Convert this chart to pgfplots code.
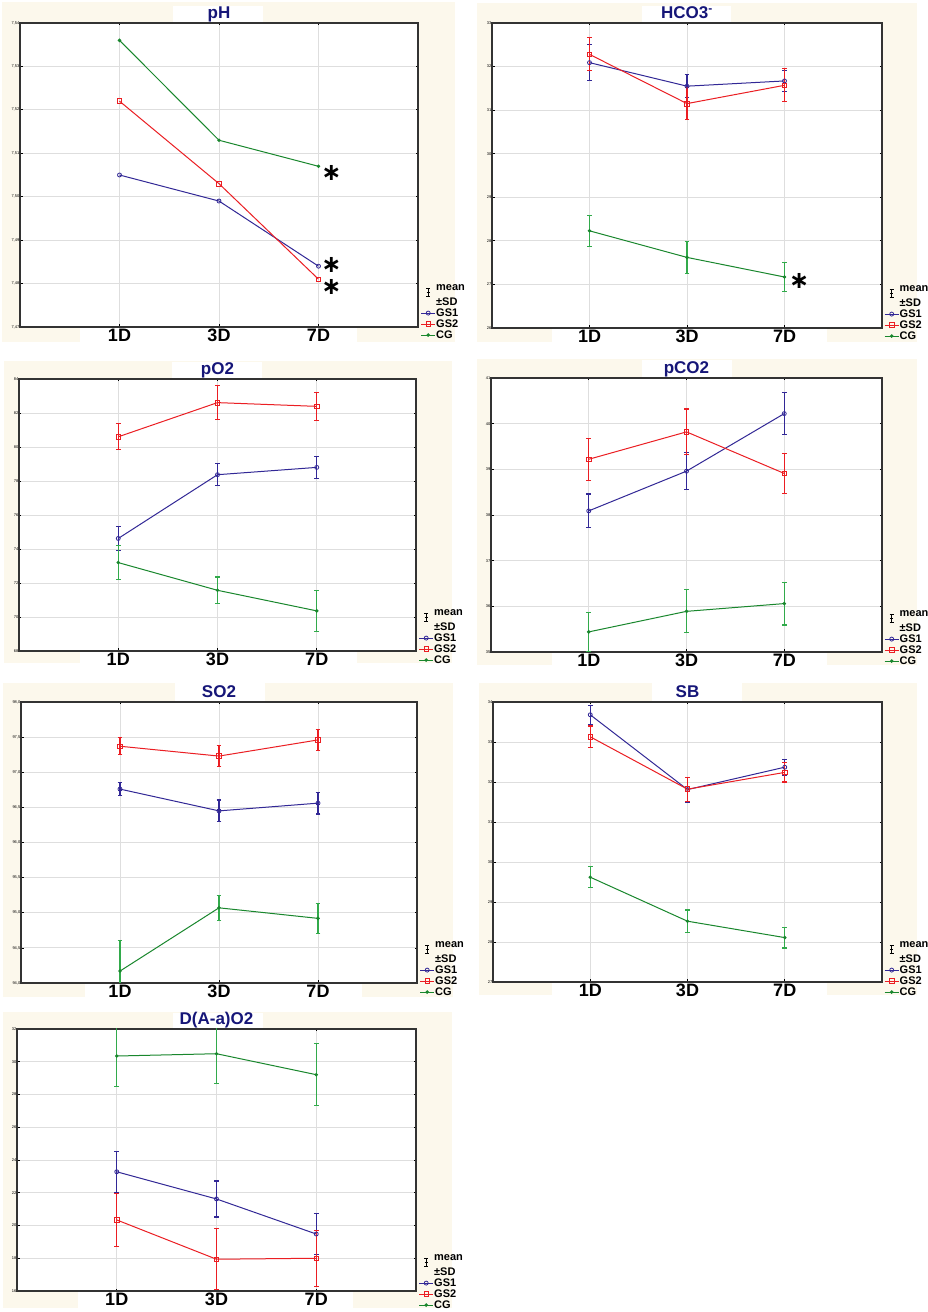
\documentclass[border=0pt]{standalone}
\usepackage{pgfplots}
\pgfplotsset{compat=1.18}
\usepackage{fontspec}
\setmainfont{Liberation Sans}
\newfontfamily\dejavu{DejaVu Sans}
\definecolor{cream}{RGB}{252,248,236}
\definecolor{gsone}{RGB}{50,40,150}
\definecolor{gstwo}{RGB}{235,30,35}
\definecolor{cgline}{RGB}{25,135,45}
\definecolor{cgbar}{RGB}{50,170,75}
\definecolor{navy}{RGB}{22,22,120}
\pgfplotsset{
  panel/.style={
    scale only axis, anchor=south west,
    xmin=0, xmax=4, xtick={1,2,3}, xticklabels={1D,3D,7D},
    grid=major, grid style={draw=black!13, line width=0.9pt},
    axis line style={draw=black!80, line width=1.2pt},
    major tick style={black, line width=0.7pt}, major tick length=2.5pt,
    axis background/.style={fill=white},
    xticklabel style={font=\fontsize{18}{18}\selectfont\bfseries, inner sep=0pt, yshift=-2pt},
    yticklabel style={font=\fontsize{4}{4}\selectfont, inner sep=0.5pt},
    /pgf/number format/assume math mode=true,
    every axis title/.style={font=\fontsize{17}{17}\selectfont\bfseries, text=navy, at={(0.5,1)}, anchor=base, yshift=4.5pt, inner sep=0pt},
    legend style={at={(1,0)}, anchor=north west, xshift=2.5pt, draw=none, fill=none,
      font=\fontsize{11}{11}\selectfont\bfseries, row sep=0.5pt, inner sep=0pt,
      nodes={inner sep=0.5pt, text height=8.5pt, text depth=1pt},
      cells={anchor=west}},
    legend image code/.code={\draw[mark repeat=2,mark phase=2,#1] plot coordinates {(0pt,0pt) (7pt,0pt) (14pt,0pt)};},
  },
  gs1/.style={gsone, line width=1pt, mark=o, mark size=2pt, mark options={solid, line width=0.8pt, fill=white}},
  gs2/.style={gstwo, line width=1pt, mark=square, mark size=2.3pt, mark options={solid, line width=0.8pt, fill=white}},
  cg/.style={cgline, line width=1pt, mark=*, mark size=1.2pt},
  eb/.style={/pgfplots/error bars/y dir=both, /pgfplots/error bars/y explicit,
    /pgfplots/error bars/error bar style={line width=1.1pt},
    /pgfplots/error bars/error mark options={rotate=90, line width=1.1pt, mark size=2.3pt}},
  ebg/.style={/pgfplots/error bars/y dir=both, /pgfplots/error bars/y explicit,
    /pgfplots/error bars/error bar style={line width=1.1pt, cgbar},
    /pgfplots/error bars/error mark options={rotate=90, line width=1.1pt, mark size=2.3pt, cgbar}},
  meanleg/.style={
    /pgfplots/legend image code/.code={
      \draw[black,line width=0.8pt] (7pt,-9pt)--(7pt,-1.5pt);
      \draw[black,line width=0.8pt] (5pt,-9pt)--(9pt,-9pt) (5pt,-1.5pt)--(9pt,-1.5pt) (5.5pt,-5.2pt)--(8.5pt,-5.2pt);}},
}
\newcommand\legstart{%
  \addlegendimage{meanleg}\addlegendentry{mean}
  \addlegendimage{empty legend}\addlegendentry{±SD}}
\newcommand\signif{{\dejavu\bfseries\fontsize{24}{24}\selectfont ∗}}
\tikzset{sig/.style={inner sep=0pt, text height=8pt, text depth=-3pt}}
\begin{document}
\begin{tikzpicture}
\path[use as bounding box] (0pt,0pt) rectangle (928pt,1312pt);
\fill[white] (0pt,0pt) rectangle (928pt,1312pt);
% ---------------- P1 pH
\fill[cream] (2pt,970pt) rectangle (455pt,1310pt);
\fill[white] (173pt,1289pt) rectangle (263pt,1306pt);
\fill[white] (80pt,970pt) rectangle (357pt,985pt);
\begin{scope}
\clip (0pt,960pt) rectangle (464pt,1312pt);
\begin{axis}[panel, at={(20pt,985pt)}, width=398pt, height=304pt,
  ymin=7.47, ymax=7.54, ytick={7.47,7.48,7.49,7.50,7.51,7.52,7.53,7.54},
  yticklabel style={/pgf/number format/fixed, /pgf/number format/fixed zerofill, /pgf/number format/precision=2, /pgf/number format/use comma},
  title={pH}, legend style={yshift=45.5pt}]
\legstart
\addplot[gs1] coordinates {(1,7.505) (2,7.499) (3,7.484)}; \addlegendentry{GS1}
\addplot[gs2] coordinates {(1,7.522) (2,7.503) (3,7.481)}; \addlegendentry{GS2}
\addplot[cg] coordinates {(1,7.536) (2,7.513) (3,7.507)}; \addlegendentry{CG}
\node[sig] at (axis cs:3.13,7.5046) {\signif};
\node[sig] at (axis cs:3.13,7.4834) {\signif};
\node[sig] at (axis cs:3.13,7.4783) {\signif};
\end{axis}
\end{scope}
% ---------------- P2 HCO3
\fill[cream] (477pt,970pt) rectangle (917pt,1309pt);
\fill[white] (642pt,1289pt) rectangle (731pt,1306pt);
\fill[white] (552pt,970pt) rectangle (827pt,984pt);
\begin{axis}[panel, at={(492pt,984pt)}, width=390pt, height=305pt,
  ymin=26, ymax=33, ytick={26,...,33},
  title={HCO3\textsuperscript{-}}, legend style={yshift=45.5pt, xshift=-0.5pt}]
\legstart
\addplot[gs1,eb] coordinates {(1,32.09) +- (0,0.42) (2,31.55) +- (0,0.27) (3,31.67) +- (0,0.24)}; \addlegendentry{GS1}
\addplot[gs2,eb] coordinates {(1,32.28) +- (0,0.38) (2,31.15) +- (0,0.37) (3,31.57) +- (0,0.38)}; \addlegendentry{GS2}
\addplot[cg,ebg] coordinates {(1,28.23) +- (0,0.35) (2,27.62) +- (0,0.36) (3,27.17) +- (0,0.34)}; \addlegendentry{CG}
\node[sig] at (axis cs:3.15,26.99) {\signif};
\end{axis}
% ---------------- P3 pO2
\fill[cream] (4pt,649pt) rectangle (452pt,951pt);
\fill[white] (172pt,933pt) rectangle (262pt,950pt);
\fill[white] (80pt,649pt) rectangle (357pt,661pt);
\begin{scope}
\clip (0pt,640pt) rectangle (464pt,960pt);
\begin{axis}[panel, at={(19pt,661pt)}, width=397pt, height=272pt,
  ymin=68, ymax=84, ytick={68,70,...,84},
  title={pO2}, legend style={yshift=44.5pt}]
\legstart
\addplot[gs1,eb] coordinates {(1,74.62) +- (0,0.72) (2,78.37) +- (0,0.64) (3,78.80) +- (0,0.64)}; \addlegendentry{GS1}
\addplot[gs2,eb] coordinates {(1,80.60) +- (0,0.76) (2,82.61) +- (0,1.0) (3,82.39) +- (0,0.83)}; \addlegendentry{GS2}
\addplot[cg,ebg] coordinates {(1,73.20) +- (0,1.0) (2,71.57) +- (0,0.78) (3,70.36) +- (0,1.22)}; \addlegendentry{CG}
\end{axis}
\end{scope}
% ---------------- P4 pCO2
\fill[cream] (477pt,647pt) rectangle (917pt,953pt);
\fill[white] (642pt,934pt) rectangle (732pt,952pt);
\fill[white] (552pt,647pt) rectangle (827pt,660pt);
\begin{axis}[panel, at={(491pt,660pt)}, width=391pt, height=274pt,
  ymin=35, ymax=41, ytick={35,...,41},
  title={pCO2}, legend style={yshift=44.5pt, xshift=-0.5pt}]
\legstart
\addplot[gs1,eb] coordinates {(1,38.09) +- (0,0.37) (2,38.96) +- (0,0.40) (3,40.22) +- (0,0.455)}; \addlegendentry{GS1}
\addplot[gs2,eb] coordinates {(1,39.22) +- (0,0.455) (2,39.82) +- (0,0.50) (3,38.91) +- (0,0.43)}; \addlegendentry{GS2}
\addplot[cg,ebg] coordinates {(1,35.44) +- (0,0.43) (2,35.89) +- (0,0.47) (3,36.06) +- (0,0.47)}; \addlegendentry{CG}
\end{axis}
% ---------------- P5 SO2
\fill[cream] (3pt,315pt) rectangle (453pt,629pt);
\fill[white] (175pt,610pt) rectangle (265pt,629pt);
\fill[white] (85pt,315pt) rectangle (362pt,329pt);
\begin{scope}
\clip (0pt,305pt) rectangle (464pt,640pt);
\begin{axis}[panel, at={(21pt,329pt)}, width=396pt, height=281pt,
  ymin=94, ymax=98, ytick={94,94.5,95,95.5,96,96.5,97,97.5,98},
  yticklabel style={/pgf/number format/fixed, /pgf/number format/fixed zerofill, /pgf/number format/precision=1, /pgf/number format/use comma},
  title={SO2}, legend style={yshift=44.5pt}]
\legstart
\addplot[gs1,eb] coordinates {(1,96.76) +- (0,0.09) (2,96.45) +- (0,0.155) (3,96.56) +- (0,0.155)}; \addlegendentry{GS1}
\addplot[gs2,eb] coordinates {(1,97.37) +- (0,0.12) (2,97.23) +- (0,0.145) (3,97.46) +- (0,0.15)}; \addlegendentry{GS2}
\addplot[cg,ebg] coordinates {(1,94.17) +- (0,0.43) (2,95.07) +- (0,0.18) (3,94.92) +- (0,0.215)}; \addlegendentry{CG}
\end{axis}
\end{scope}
% ---------------- P6 SB
\fill[cream] (479pt,317pt) rectangle (917pt,629pt);
\fill[white] (652pt,610pt) rectangle (742pt,629pt);
\fill[white] (552pt,317pt) rectangle (827pt,330pt);
\begin{axis}[panel, at={(493pt,330pt)}, width=389pt, height=280pt,
  ymin=27, ymax=34, ytick={27,...,34},
  title={SB}, legend style={yshift=43.5pt, xshift=-0.5pt}]
\legstart
\addplot[gs1,eb] coordinates {(1,33.68) +- (0,0.235) (2,31.81) +- (0,0.31) (3,32.37) +- (0,0.20)}; \addlegendentry{GS1}
\addplot[gs2,eb] coordinates {(1,33.13) +- (0,0.27) (2,31.82) +- (0,0.30) (3,32.24) +- (0,0.24)}; \addlegendentry{GS2}
\addplot[cg,ebg] coordinates {(1,29.62) +- (0,0.26) (2,28.52) +- (0,0.28) (3,28.11) +- (0,0.26)}; \addlegendentry{CG}
\end{axis}
% ---------------- P7 D(A-a)O2
\fill[cream] (3pt,4pt) rectangle (452pt,300pt);
\fill[white] (173pt,283pt) rectangle (263pt,299pt);
\fill[white] (78pt,4pt) rectangle (353pt,21pt);
\begin{scope}
\clip (0pt,0pt) rectangle (464pt,305pt);
\begin{axis}[panel, at={(17pt,21pt)}, width=399pt, height=262pt,
  ymin=16, ymax=32, ytick={16,18,...,32},
  title={D(A-a)O2}, legend style={yshift=39.5pt}]
\legstart
\addplot[gs1,eb] coordinates {(1,23.28) +- (0,1.25) (2,21.62) +- (0,1.1) (3,19.48) +- (0,1.27)}; \addlegendentry{GS1}
\addplot[gs2,eb] coordinates {(1,20.34) +- (0,1.62) (2,17.94) +- (0,1.85) (3,18.00) +- (0,1.72)}; \addlegendentry{GS2}
\addplot[cg,ebg] coordinates {(1,30.35) +- (0,1.84) (2,30.49) +- (0,1.83) (3,29.21) +- (0,1.9)}; \addlegendentry{CG}
\end{axis}
\end{scope}
\end{tikzpicture}
\end{document}
